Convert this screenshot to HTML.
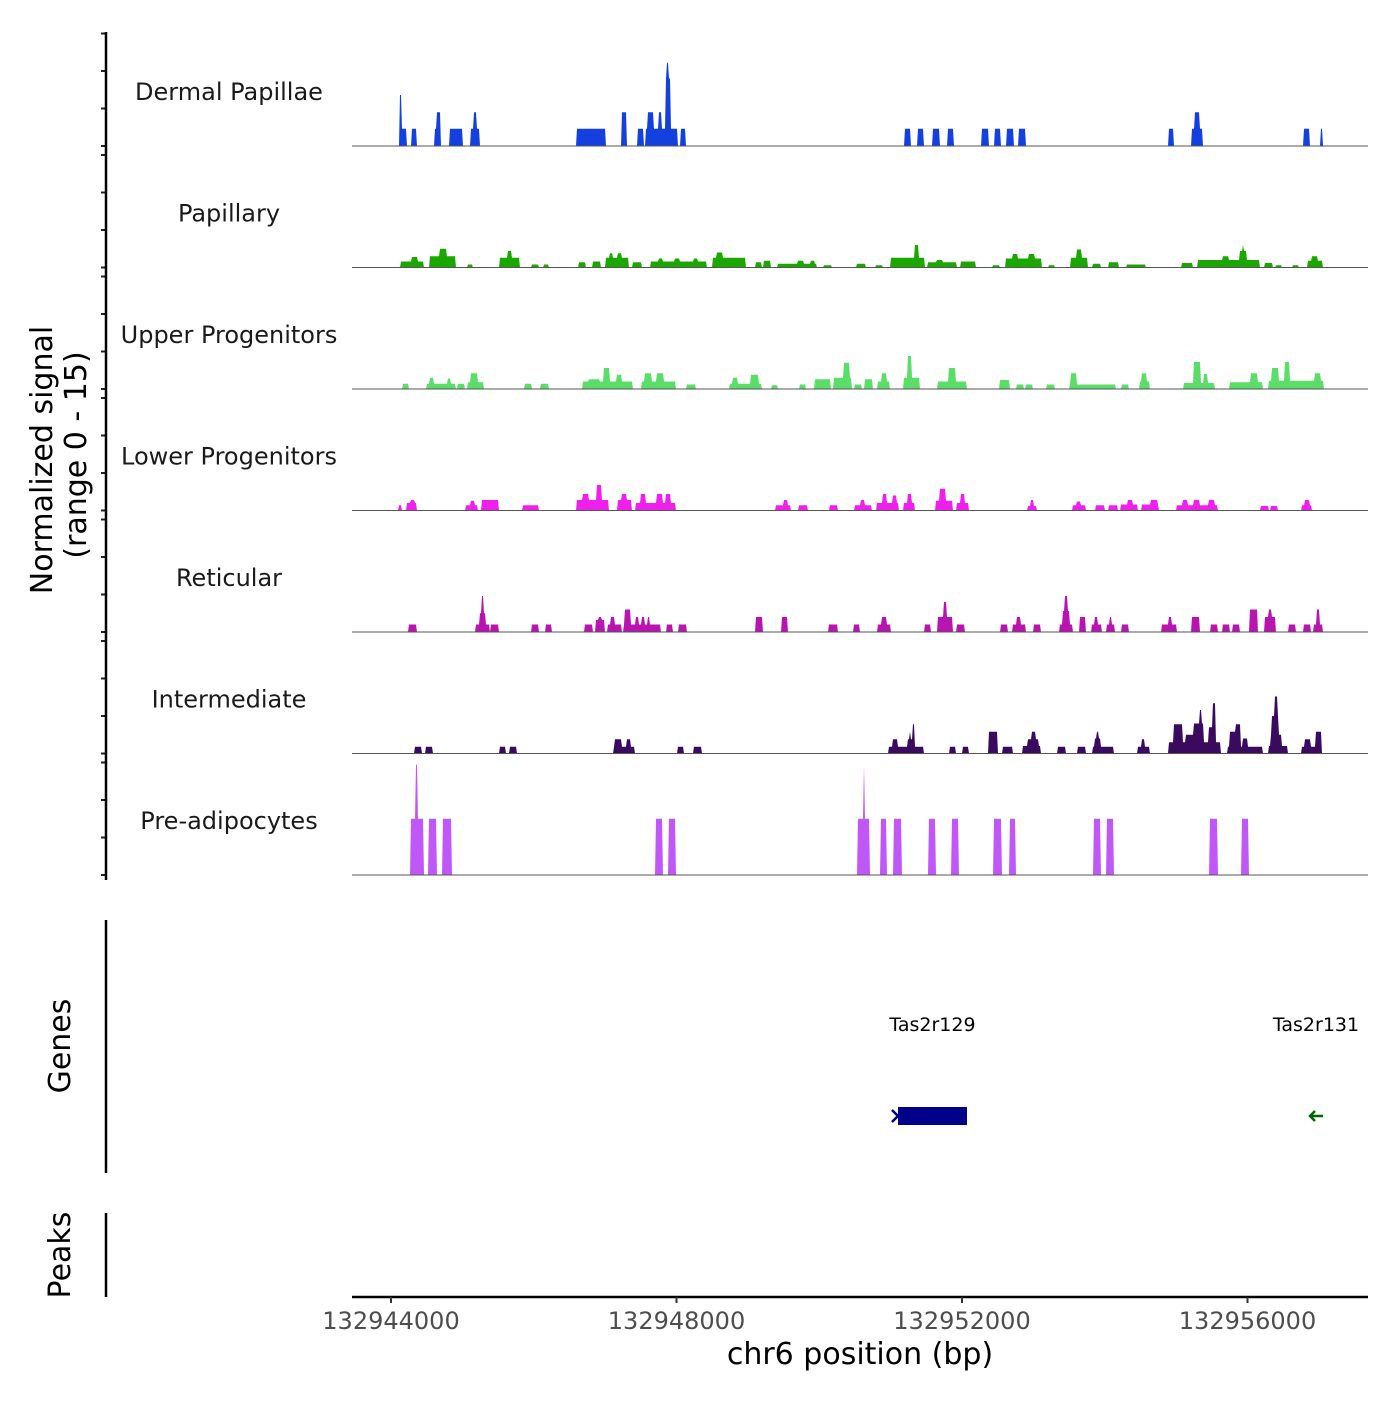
<!DOCTYPE html>
<html><head><meta charset="utf-8"><style>
html,body{margin:0;padding:0;background:#fff;}
svg text{font-family:"DejaVu Sans","Liberation Sans",sans-serif;}
</style></head><body>
<svg id="chart" width="1400" height="1400" viewBox="0 0 1400 1400" xmlns="http://www.w3.org/2000/svg">
<g id="tracks"></g>
<g id="axes"></g>
</svg>
<script>
const regionStart = 132943454;
const offsetScale = 1.953; // bp per offset unit in the segment arrays
const trackNames = ["Dermal Papillae","Papillary","Upper Progenitors","Lower Progenitors","Reticular","Intermediate","Pre-adipocytes"];
const trackColors = ["#1440e0","#1aa800","#5cdc68","#f020ec","#b814b0","#3a0a5e","#c058f8"];
const xTicks = [132944000,132948000,132952000,132956000];
const yTicks = [0,5,10,15];
// segments: [startOffset, endOffset, signal]
const dermal = [[350,397,2.3],[345,360,6.8],[430,467,2.3],[593,640,2.3],[607,635,4.5],[700,794,2.3],[855,920,2.3],[873,897,4.5],[1611,1821,2.3],[1938,1975,4.5],[2055,2092,2.3],[2111,2335,2.3],[2125,2167,4.5],[2204,2223,4.5],[2251,2288,9.0],[2260,2274,11.1],[2358,2396,2.3],[3970,4007,2.3],[4063,4100,2.3],[4170,4217,2.3],[4278,4320,2.3],[4521,4567,2.3],[4609,4656,2.3],[4698,4749,2.3],[4787,4833,2.3],[5861,5898,2.3],[6024,6108,2.3],[6048,6085,4.5],[6828,6874,2.3],[6949,6968,2.3]];
const papillary = [[350,514,0.8],[430,470,1.4],[560,747,1.5],[630,680,2.5],[831,869,0.4],[1065,1205,1.3],[1120,1150,2.2],[1294,1340,0.4],[1378,1415,0.4],[1625,1681,0.7],[1728,1784,0.8],[1821,1985,1.3],[1850,1870,1.9],[1910,1935,1.9],[2017,2083,0.7],[2148,2545,0.8],[2200,2230,1.2],[2320,2350,1.2],[2450,2480,1.2],[2592,2825,1.3],[2620,2660,2.0],[2895,2942,0.7],[2956,3003,0.9],[3059,3339,0.5],[3200,3240,0.9],[3290,3320,0.9],[3386,3446,0.3],[3619,3689,0.5],[3759,3806,0.3],[3867,4110,1.3],[4040,4070,3.0],[4133,4343,0.7],[4200,4240,1.0],[4367,4474,0.8],[4600,4647,0.3],[4693,4950,1.2],[4740,4780,1.8],[4860,4900,1.8],[4997,5044,0.3],[5160,5277,1.3],[5200,5240,2.4],[5314,5371,0.5],[5427,5501,0.7],[5557,5697,0.4],[5954,6034,0.6],[6071,6515,1.0],[6250,6290,1.5],[6370,6420,2.2],[6390,6402,3.0],[6552,6608,0.6],[6631,6669,0.3],[6748,6795,0.3],[6856,6968,0.9],[6890,6930,1.5]];
const upper = [[364,411,0.7],[537,747,0.7],[560,590,1.5],[690,710,1.4],[761,808,0.7],[831,948,0.9],[855,905,2.1],[1238,1294,0.7],[1354,1415,0.7],[1658,2017,1.0],[1810,1850,2.8],[1900,1940,1.9],[1700,1780,1.3],[2078,2321,1.0],[2100,2150,2.1],[2190,2240,2.1],[2405,2466,0.6],[2709,2942,0.7],[2730,2770,1.5],[2860,2920,1.9],[3012,3059,0.5],[3213,3260,0.6],[3320,3437,1.3],[3456,3587,1.5],[3530,3570,3.5],[3610,3657,0.6],[3680,3736,1.3],[3773,3862,1.0],[3805,3835,2.1],[3960,4072,1.5],[3985,4020,4.4],[4203,4413,1.0],[4280,4330,2.8],[4647,4717,1.2],[4773,4820,0.6],[4838,4885,0.6],[4988,5044,0.6],[5151,5478,0.6],[5160,5200,2.1],[5525,5571,0.6],[5651,5721,1.0],[5670,5700,2.1],[5968,6188,0.8],[6040,6090,3.6],[6110,6140,2.0],[6295,6538,0.9],[6450,6500,2.1],[6576,6972,1.1],[6600,6650,2.8],[6690,6730,3.6],[6910,6950,2.1]];
const lower = [[336,360,0.7],[397,467,1.0],[420,450,1.4],[817,901,0.7],[850,880,1.3],[934,1055,1.4],[1228,1340,0.7],[1611,1845,1.4],[1660,1700,2.2],[1755,1790,3.4],[1905,2008,1.4],[1940,1975,2.2],[2036,2321,1.0],[2070,2110,2.2],[2190,2230,2.2],[2250,2290,2.2],[3045,3152,0.7],[3100,3130,1.4],[3204,3269,0.7],[3432,3488,0.7],[3610,3727,0.7],[3650,3680,1.4],[3764,3923,1.0],[3810,3840,2.2],[3880,3910,2.0],[3960,4040,1.0],[3990,4020,2.2],[4189,4311,1.3],[4220,4260,2.9],[4343,4427,1.0],[4370,4400,2.2],[4847,4913,0.6],[4870,4890,1.4],[5174,5268,0.7],[5200,5230,1.2],[5338,5403,0.7],[5431,5497,0.7],[5520,5637,0.8],[5570,5600,1.4],[5665,5791,0.8],[5730,5780,1.4],[5917,6211,0.7],[5960,6000,1.4],[6040,6080,1.4],[6150,6190,1.4],[6524,6575,0.6],[6594,6645,0.6],[6818,6888,0.7],[6840,6870,1.4]];
const reticular = [[411,467,1.0],[887,990,1.0],[920,960,2.5],[935,950,4.8],[995,1055,1.0],[1289,1340,1.0],[1392,1438,1.0],[1672,1728,1.0],[1751,1812,1.6],[1770,1795,2.0],[1835,1938,1.0],[1860,1890,2.0],[1952,2218,1.0],[1960,2000,3.0],[2040,2060,2.0],[2080,2100,2.0],[2120,2140,2.0],[2256,2302,1.0],[2349,2405,1.0],[2895,2951,2.0],[3082,3129,2.0],[3423,3488,1.0],[3601,3647,1.0],[3773,3867,1.0],[3800,3840,2.0],[4110,4156,1.0],[4203,4311,2.0],[4250,4265,4.0],[4343,4399,1.0],[4656,4707,1.0],[4745,4833,1.0],[4770,4800,2.0],[4889,4941,1.0],[5076,5170,1.0],[5100,5150,2.8],[5115,5135,4.8],[5221,5268,2.0],[5305,5380,1.0],[5330,5350,2.0],[5417,5474,1.0],[5435,5455,2.0],[5525,5571,1.0],[5814,5921,1.0],[5860,5880,2.0],[6024,6085,2.0],[6164,6211,1.0],[6249,6295,1.0],[6319,6370,1.0],[6445,6501,3.0],[6552,6631,2.0],[6580,6600,3.0],[6725,6772,1.0],[6832,6879,1.0],[6902,6968,1.0],[6920,6945,3.0]];
const intermediate = [[453,500,0.9],[528,584,0.9],[1060,1107,0.9],[1135,1182,0.9],[1882,2031,0.9],[1890,1940,1.9],[1970,2000,1.9],[2335,2382,0.9],[2452,2508,0.9],[3853,4100,0.9],[3880,3920,1.9],[3990,4030,1.9],[4000,4012,2.9],[4025,4040,3.9],[4287,4334,0.9],[4380,4427,0.9],[4567,4637,2.9],[4670,4740,0.9],[4810,4941,1.0],[4850,4930,1.9],[4880,4910,2.9],[5067,5123,0.9],[5207,5268,0.9],[5314,5464,0.9],[5330,5370,2.0],[5345,5360,2.9],[5637,5721,0.9],[5670,5690,1.9],[5861,6234,1.5],[5900,5960,3.9],[5980,6040,2.5],[6040,6110,4.0],[6080,6100,5.8],[6150,6200,3.5],[6180,6200,6.7],[6281,6538,0.9],[6300,6350,2.9],[6340,6380,3.9],[6390,6430,2.0],[6576,6716,1.0],[6590,6670,2.5],[6600,6650,5.0],[6620,6640,7.6],[6818,6958,0.9],[6840,6880,1.9],[6915,6958,2.9]];
const preadipo = [[420,514,7.5],[462,472,14.7],[551,607,7.5],[654,714,7.5],[2181,2232,7.5],[2274,2321,7.5],[3633,3713,7.5],[3670,3680,14.7],[3792,3839,7.5],[3890,3946,7.5],[4138,4189,7.5],[4301,4352,7.5],[4605,4661,7.5],[4717,4763,7.5],[5324,5371,7.5],[5417,5464,7.5],[6155,6211,7.5],[6384,6435,7.5]];
const trackData = [dermal,papillary,upper,lower,reticular,intermediate,preadipo];
const geneNames = ["Tas2r129","Tas2r131"];
const geneStarts = [132951103,132956930];
const geneEnds = [132952070,132956990];

const NS = "http://www.w3.org/2000/svg";
const X0 = 352, X1 = 1368;
const bpPerPx = 4000/285.5;
function xScale(bp){ return 391 + (bp - 132944000)/bpPerPx; }
function xInv(px){ return 132944000 + (px - 391)*bpPerPx; }
const baseY0 = 146, trackStep = 121.5, pxPerUnit = 7.5;
function yScale(i, v){ return baseY0 + i*trackStep - v*pxPerUnit; }
function mk(tag, attrs, parent){ const e=document.createElementNS(NS,tag); for(const k in attrs) e.setAttribute(k,attrs[k]); parent.appendChild(e); return e; }
const tracksG = document.getElementById('tracks');
const axesG = document.getElementById('axes');

trackData.forEach((segs, i) => {
  const base = yScale(i, 0);
  const g = mk('g', {}, tracksG);
  
  
  let d = 'M' + X0 + ',' + base;
  for (let px = X0; px <= X1; px++) {
    const off = (xInv(px + 0.5) - regionStart) / offsetScale;
    let v = 0;
    for (const s of segs) if (off >= s[0] && off < s[1] && s[2] > v) v = s[2];
    d += ' L' + px + ',' + yScale(i, v).toFixed(1);
  }
  d += ' L' + X1 + ',' + base + ' Z';
  const p = mk('path', {d: d, fill: trackColors[i], stroke: 'none'}, g);
  
  
  const bl = mk('line', {x1: X0, x2: X1, y1: base, y2: base, stroke: '#555', 'stroke-width': 1}, g);
  
  
  const t = mk('text', {x: 229, y: base - 46, 'text-anchor': 'middle', 'font-size': 24, fill: '#1a1a1a'}, g);
  t.textContent = trackNames[i];
  
  
  yTicks.forEach(v => {
    const ty = yScale(i, v);
    const tk = mk('line', {x1: 101, x2: 106, y1: ty, y2: ty, stroke: '#222', 'stroke-width': 2}, g);
    
    
  });
});

[[32,880],[920,1173],[1213,1297]].forEach(r => {
  const l = mk('line', {x1:106, x2:106, y1:r[0], y2:r[1], stroke:'#000', 'stroke-width':2.5}, axesG);
  
  
});
const yt1 = mk('text', {x:0, y:0, 'text-anchor':'middle', 'font-size':30, fill:'#000', transform:'translate(52,460) rotate(-90)'}, axesG);
yt1.textContent = 'Normalized signal';


const yt2 = mk('text', {x:0, y:0, 'text-anchor':'middle', 'font-size':30, fill:'#000', transform:'translate(86,455) rotate(-90)'}, axesG);
yt2.textContent = '(range 0 - 15)';


const gt = mk('text', {x:0, y:0, 'text-anchor':'middle', 'font-size':30, fill:'#000', transform:'translate(70,1046) rotate(-90)'}, axesG);
gt.textContent = 'Genes';


const pt = mk('text', {x:0, y:0, 'text-anchor':'middle', 'font-size':30, fill:'#000', transform:'translate(70,1255) rotate(-90)'}, axesG);
pt.textContent = 'Peaks';



geneNames.forEach((n, i) => {
  const xs = xScale(geneStarts[i]), xe = xScale(geneEnds[i]);
  const cx = (xs + xe) / 2;
  const lab = mk('text', {x: cx, y: 1031, 'text-anchor':'middle', 'font-size':19, fill:'#000'}, axesG);
  lab.textContent = n;
  
  
  if (i === 0) {
    const r = mk('rect', {x: xs, y: 1107, width: xe - xs, height: 18, fill: '#00008b'}, axesG);
    
    
    const c = mk('path', {d: `M${xs-6},1110 L${xs},1116 L${xs-6},1122`, stroke:'#00008b', 'stroke-width':2.5, fill:'none'}, axesG);
    
    
  } else {
    const a = mk('path', {d: `M${cx+7},1116 L${cx-6},1116 M${cx-1},1111 L${cx-6},1116 L${cx-1},1121`, stroke:'#006400', 'stroke-width':2.5, fill:'none'}, axesG);
    
    
  }
});

const xa = mk('line', {x1: X0, x2: X1, y1: 1297, y2: 1297, stroke:'#000', 'stroke-width':2.5}, axesG);


xTicks.forEach(v => {
  const x = xScale(v);
  const tk = mk('line', {x1:x, x2:x, y1:1297, y2:1303, stroke:'#333', 'stroke-width':2}, axesG);
  
  
  const tl = mk('text', {x:x, y:1329, 'text-anchor':'middle', 'font-size':24, fill:'#4d4d4d'}, axesG);
  tl.textContent = String(v);
  
  
});
const xt = mk('text', {x:860, y:1364, 'text-anchor':'middle', 'font-size':30, fill:'#000'}, axesG);
xt.textContent = 'chr6 position (bp)';


</script>
</body></html>
